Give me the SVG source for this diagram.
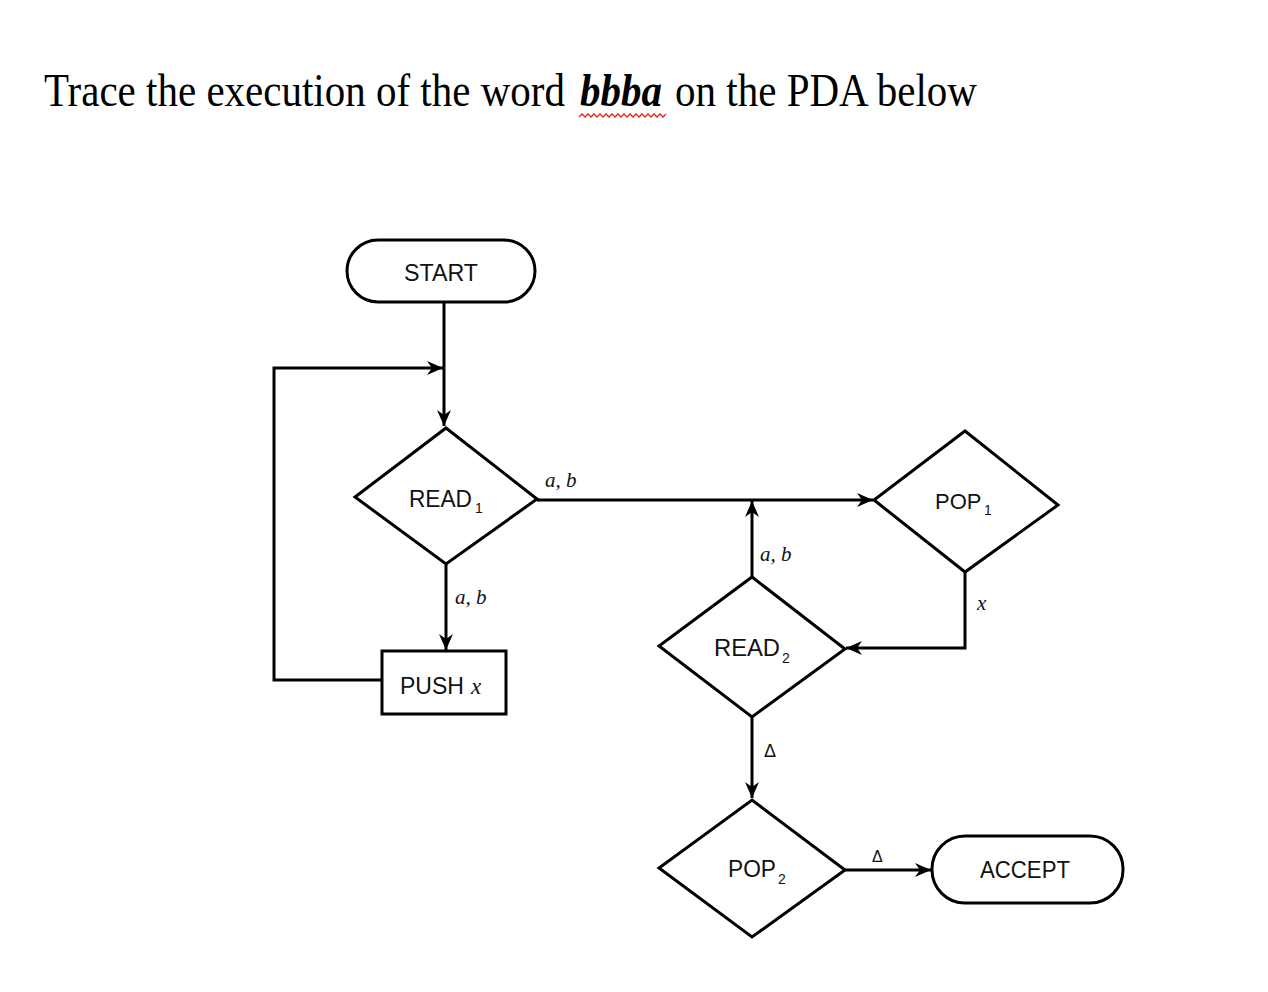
<svg xmlns="http://www.w3.org/2000/svg" width="1268" height="992" viewBox="0 0 1268 992">
<style>
.title{font-family:"Liberation Serif","Times New Roman",serif;font-size:41px;fill:#000}
.shape{fill:#fff;stroke:#000;stroke-width:3}
.lbl{font-family:"Liberation Sans",Arial,sans-serif;font-size:24px;fill:#111}
.sub{font-size:14px}
.ital{font-family:"Liberation Serif","Times New Roman",serif;font-style:italic;font-size:21px;fill:#111}
.edge{fill:none;stroke:#000;stroke-width:3}
</style>
<defs>
<marker id="arr" markerUnits="userSpaceOnUse" markerWidth="18" markerHeight="14" refX="16" refY="7" orient="auto">
<path d="M0,0 L16,7 L0,14 L5,7 z" fill="#000"/>
</marker>
</defs>
<rect width="1268" height="992" fill="#fff"/>
<g id="title">
<g transform="translate(0,106) scale(1,1.12) translate(0,-106)">
<text class="title" x="44" y="106">Trace the execution of the word</text>
<text class="title" x="580" y="106" font-weight="bold" font-style="italic">bbba</text>
<text class="title" x="675" y="106" textLength="302" lengthAdjust="spacingAndGlyphs">on the PDA below</text>
</g>
<polyline points="579,117 582,114 585,117 588,114 591,117 594,114 597,117 600,114 603,117 606,114 609,117 612,114 615,117 618,114 621,117 624,114 627,117 630,114 633,117 636,114 639,117 642,114 645,117 648,114 651,117 654,114 657,117 660,114 663,117 666,114" fill="none" stroke="#e0261b" stroke-width="1.3"/>
</g>
<g id="connectors">
<path class="edge" d="M444,302 L444,426" marker-end="url(#arr)"/>
<path class="edge" d="M382,680 L274,680 L274,368 L443,368" marker-end="url(#arr)"/>
<path class="edge" d="M446,564 L446,650" marker-end="url(#arr)"/>
<path class="edge" d="M537,500 L873,500" marker-end="url(#arr)"/>
<path class="edge" d="M965,573 L965,648 L846,648" marker-end="url(#arr)"/>
<path class="edge" d="M752,577 L752,501" marker-end="url(#arr)"/>
<path class="edge" d="M752,717 L752,798" marker-end="url(#arr)"/>
<path class="edge" d="M845,870 L931,870" marker-end="url(#arr)"/>
<text class="ital" x="545" y="487">a, b</text>
<text class="ital" x="455" y="604">a, b</text>
<text class="ital" x="760" y="561">a, b</text>
<text class="ital" x="977" y="610">x</text>
<text class="lbl" x="764" y="757" style="font-size:18px">Δ</text>
<text class="lbl" x="872" y="862" style="font-size:16px">Δ</text>
</g>
<g id="start">
<rect class="shape" x="347" y="240" width="188" height="62" rx="31" ry="31"/>
<text class="lbl" x="441" y="281" text-anchor="middle" textLength="74" lengthAdjust="spacingAndGlyphs">START</text>
</g>
<g id="read1">
<polygon class="shape" points="446,428 537,499 446,564 355,497"/>
<text class="lbl" x="409" y="507" textLength="63" lengthAdjust="spacingAndGlyphs">READ</text>
<text class="lbl sub" x="475" y="513">1</text>
</g>
<g id="pushx">
<rect class="shape" x="382" y="651" width="124" height="63"/>
<text class="lbl" x="400" y="694" textLength="64" lengthAdjust="spacingAndGlyphs">PUSH</text>
<text class="ital" x="471" y="694" style="font-size:23px">x</text>
</g>
<g id="pop1">
<polygon class="shape" points="965,431 1058,505 965,572 874,500"/>
<text class="lbl" x="935" y="509" style="font-size:22px">POP</text>
<text class="lbl sub" x="984" y="515">1</text>
</g>
<g id="read2">
<polygon class="shape" points="752,577 845,649 752,717 659,646"/>
<text class="lbl" x="714" y="656" textLength="66" lengthAdjust="spacingAndGlyphs">READ</text>
<text class="lbl sub" x="782" y="663">2</text>
</g>
<g id="pop2">
<polygon class="shape" points="752,800 845,870 752,937 659,868"/>
<text class="lbl" x="728" y="877" textLength="48" lengthAdjust="spacingAndGlyphs">POP</text>
<text class="lbl sub" x="778" y="884">2</text>
</g>
<g id="accept">
<rect class="shape" x="932" y="836" width="191" height="67" rx="33" ry="33"/>
<text class="lbl" x="1025" y="878" text-anchor="middle" textLength="90" lengthAdjust="spacingAndGlyphs">ACCEPT</text>
</g>
</svg>
